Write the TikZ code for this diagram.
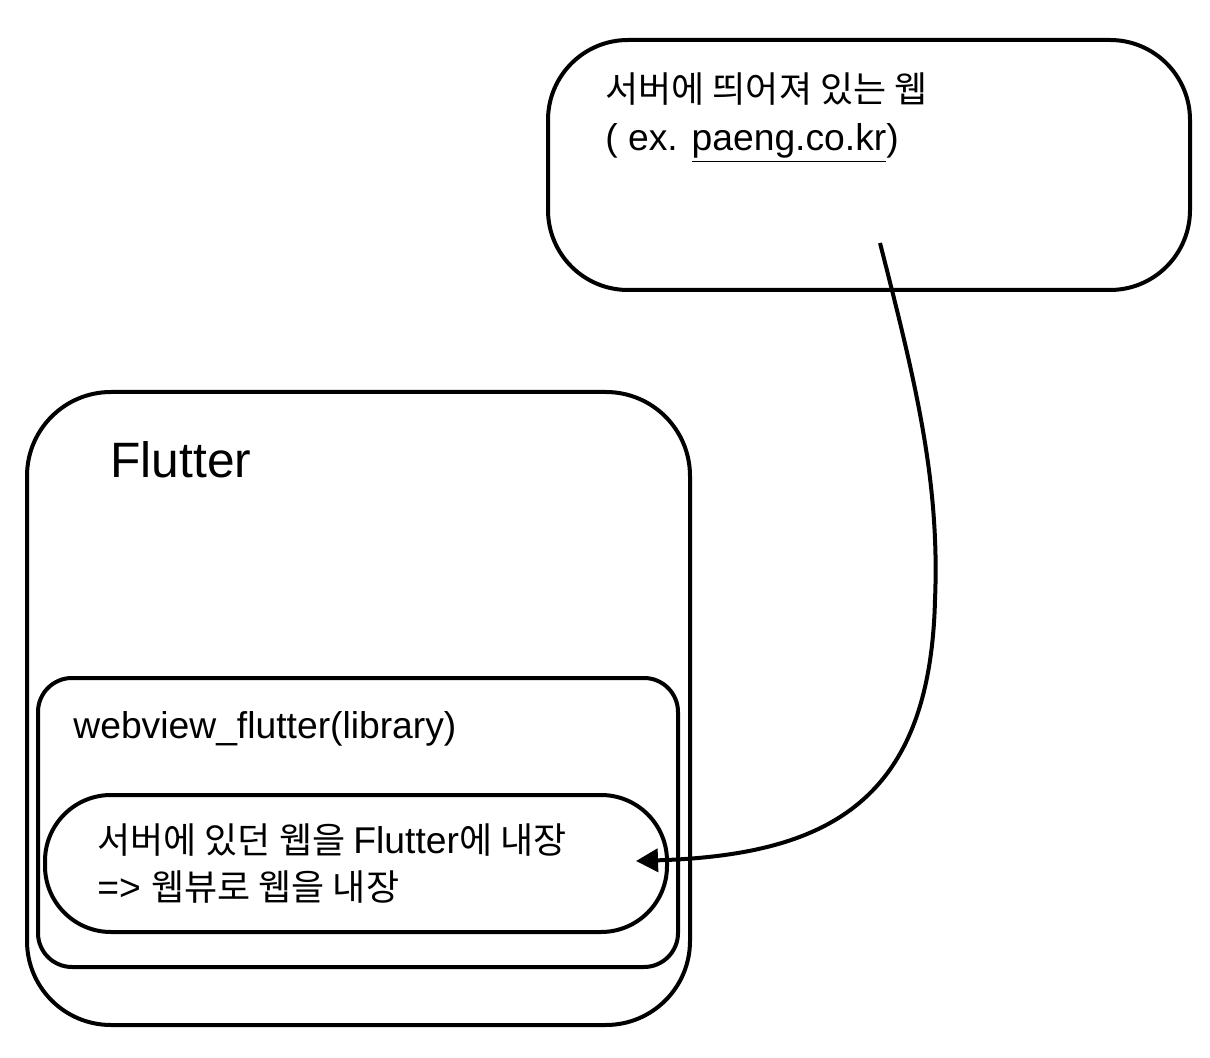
\documentclass[tikz,border=0pt]{standalone}
\usepackage{fontspec}
\setmainfont{Liberation Sans}[Scale=1.035]
\newfontfamily\kr{Noto Sans CJK KR}
\usetikzlibrary{arrows.meta}

\begin{document}
\begin{tikzpicture}[x=0.5pt,y=-0.5pt,
  box/.style={draw, line width=2pt, inner sep=0pt},
  txt/.style={anchor=base west, inner sep=0pt, font=\fontsize{18}{24}\selectfont}]
\useasboundingbox (0,0) rectangle (1210,1058);

% boxes
\node[box, rounded corners=40pt, minimum width=321pt, minimum height=125pt] (server) at (869,165) {};
\node[box, rounded corners=42pt, minimum width=331.5pt, minimum height=316.5pt] (flutter) at (358.5,708.5) {};
\node[box, rounded corners=17pt, minimum width=320pt, minimum height=144.5pt] (webview) at (358,822.5) {};
\node[box, rounded corners=33pt, minimum width=311pt, minimum height=68.5pt] (embed) at (356,863.5) {};

% labels
\node[txt] (serverA) at (605,103) {\kr 서버에 띄어져 있는 웹};
\node[txt] (serverB) at (605,151) {( ex. \underline{paeng.co.kr})};
\node[txt, font=\fontsize{24}{30}\selectfont] (flutterlbl) at (110,478) {Flutter};
\node[txt] (webviewlbl) at (73,738) {webview\_flutter(library)};
\node[txt] (embedA) at (97,853) {{\kr 서버에 있던 웹을 }Flutter{\kr 에 내장}};
\node[txt] (embedB) at (97,900) {=> {\kr 웹뷰로 웹을 내장}};

% connector
\coordinate (src) at (880,243);
\coordinate (dst) at (636,861);
\draw[line width=2pt, -{Triangle[length=11pt,width=11.5pt]}] (src)
  .. controls (915,380) and (940,480) .. (935,600)
  .. controls (930,800) and (830,855) .. (dst);
\end{tikzpicture}
\end{document}
